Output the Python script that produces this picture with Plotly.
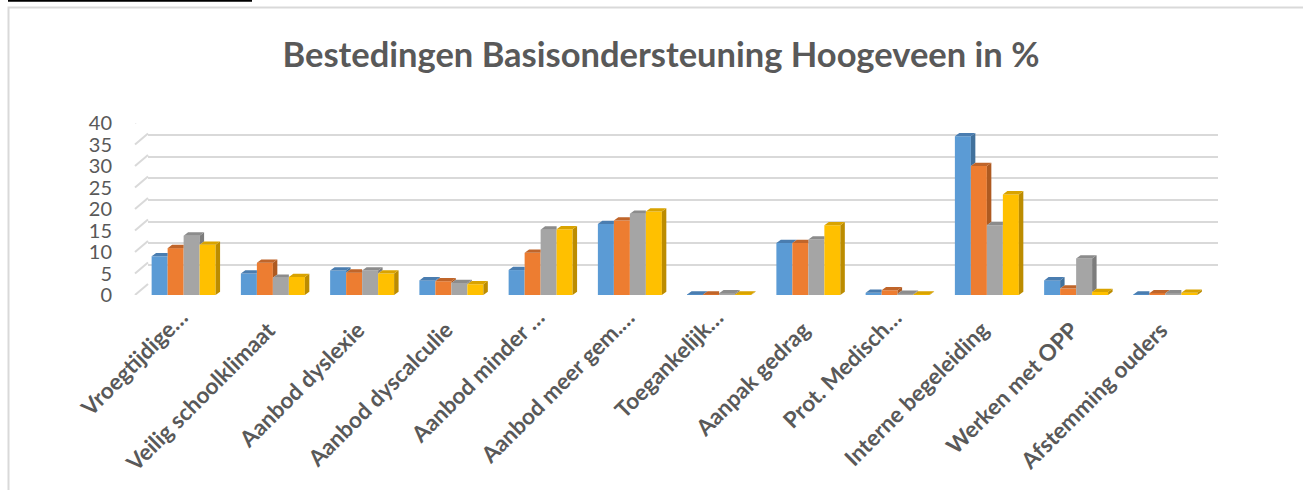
import plotly.graph_objects as go

W, H = 1303, 490

categories = ["Vroegtijdige…", "Veilig schoolklimaat", "Aanbod dyslexie", "Aanbod dyscalculie",
              "Aanbod minder …", "Aanbod meer gem.…", "Toegankelijk…", "Aanpak gedrag",
              "Prot. Medisch…", "Interne begeleiding", "Werken met OPP", "Afstemming ouders"]
series_names = ["Reeks 1", "Reeks 2", "Reeks 3", "Reeks 4"]
s1 = [9.0, 5.0, 5.7, 3.4, 5.8, 16.5, 0.1, 12.1, 0.5, 36.9, 3.4, 0.1]
s2 = [10.9, 7.5, 5.2, 3.2, 9.8, 17.3, 0.1, 12.1, 1.1, 30.0, 1.5, 0.4]
s3 = [13.8, 4.0, 5.7, 2.8, 15.2, 18.9, 0.4, 12.9, 0.3, 16.2, 8.5, 0.4]
s4 = [11.7, 4.2, 5.0, 2.5, 15.3, 19.4, 0.1, 16.2, 0.1, 23.4, 0.7, 0.5]
series = [s1, s2, s3, s4]
y_ticks = [0, 5, 10, 15, 20, 25, 30, 35, 40]

front_col = ["#5B9BD5", "#ED7D31", "#A5A5A5", "#FFC000"]
side_col = ["#41719C", "#AE5A21", "#7C7C7C", "#BC8C00"]
top_col = ["#4A7DB0", "#C0652A", "#8C8C8C", "#D9A300"]

GROUP = 0.717
BW = GROUP / 4
DX = 0.05   # depth offset in category units
DY = 0.77   # depth offset in value units

fig = go.Figure()

# back-wall gridlines subplot (x / y)
fig.add_trace(go.Scatter(x=[0], y=[0], mode="markers", marker=dict(opacity=0),
                         hoverinfo="skip", showlegend=False, xaxis="x", yaxis="y"))

xs = list(range(len(categories)))
for s, vals in enumerate(series):
    offset = -GROUP / 2 + s * BW
    fig.add_trace(go.Bar(x=xs, y=vals, width=BW, offset=offset, marker=dict(color=front_col[s], line=dict(width=0)),
                         name=series_names[s], showlegend=False, xaxis="x2", yaxis="y2"))
for s, vals in enumerate(series):
    offset = -GROUP / 2 + s * BW
    sx, sy, tx, ty = [], [], [], []
    for i, v in enumerate(vals):
        xl = i + offset
        xr = xl + BW
        nxt = series[s + 1][i] if s < 3 else 0.0
        low = min(nxt, v) if s < 3 else 0.0
        if s == 3 or nxt < v:
            sx += [xr, xr, xr + DX, xr + DX, xr, None]
            sy += [low, v, v + DY, low + DY, low, None]
        if s < 3 and nxt > v:
            tx += [xl, xr, xr, xl + DX, xl, None]
            ty += [v, v, v + DY, v + DY, v, None]
        else:
            tx += [xl, xr, xr + DX, xl + DX, xl, None]
            ty += [v, v, v + DY, v + DY, v, None]
    fig.add_trace(go.Scatter(x=sx, y=sy, mode="lines", fill="toself", fillcolor=side_col[s],
                             line=dict(width=0), hoverinfo="skip", showlegend=False, xaxis="x2", yaxis="y2"))
    fig.add_trace(go.Scatter(x=tx, y=ty, mode="lines", fill="toself", fillcolor=top_col[s],
                             line=dict(width=0), hoverinfo="skip", showlegend=False, xaxis="x2", yaxis="y2"))

grey = "#595959"
fig.update_layout(
    width=W, height=H,
    margin=dict(l=0, r=0, t=0, b=0, pad=0, autoexpand=False),
    paper_bgcolor="white",
    plot_bgcolor="rgba(0,0,0,0)",
    showlegend=False,
    barmode="overlay",
    xaxis=dict(domain=[148 / W, 1218 / W], range=[0, 1], visible=False, anchor="y", automargin=False),
    yaxis=dict(domain=[(H - 287) / H, (H - 113) / H], range=[-0.1, 40.1], anchor="x", automargin=False,
               showgrid=True, gridcolor="#D9D9D9", gridwidth=2, tickvals=y_ticks,
               showticklabels=False, zeroline=False, showline=False, ticks=""),
    xaxis2=dict(domain=[139 / W, 1210 / W], range=[-0.5, 11.5], anchor="y2", automargin=False,
                tickvals=xs, showticklabels=False,
                showgrid=False, zeroline=False, showline=False, ticks=""),
    yaxis2=dict(domain=[(H - 295) / H, (H - 123) / H], range=[0, 40], anchor="x2", automargin=False,
                tickvals=y_ticks, tickfont=dict(family="Lato", size=20, color=grey),
                showgrid=False, zeroline=False, showline=False, ticks="", ticklabelstandoff=26),
    title=dict(text="<b>Bestedingen Basisondersteuning Hoogeveen in %</b>",
               x=661 / W, xanchor="center", y=1 - 55 / H, yanchor="middle", automargin=False,
               font=dict(family="Lato", size=34.5, color=grey)),
)

# rotated category labels, ending at the category position (Excel style)
for i, lab in enumerate(categories):
    truncated = lab.endswith("…")
    fig.add_annotation(x=xs[i], y=0, xref="x2", yref="y2", text="<b>" + lab + "</b>", showarrow=False,
                       textangle=-45, xanchor="right", yanchor="top",
                       xshift=12 if truncated else 10, yshift=-6 if truncated else -18,
                       font=dict(family="Lato", size=22.5, color=grey))

shapes = []
for t in y_ticks:
    shapes.append(dict(type="line", xref="paper", xsizemode="pixel", xanchor=135 / W, x0=0, x1=13,
                       yref="y2", ysizemode="pixel", yanchor=t, y0=0, y1=11,
                       line=dict(color="#D9D9D9", width=2), layer="below"))
shapes.append(dict(type="rect", xref="paper", yref="paper", x0=8.5 / W, x1=1.01, y0=-0.01, y1=1 - 7.5 / H,
                   line=dict(color="#D9D9D9", width=2), layer="below"))
shapes.append(dict(type="line", xref="paper", yref="paper", x0=8 / W, x1=252 / W, y0=1 - 0.8 / H, y1=1 - 0.8 / H,
                   line=dict(color="black", width=2)))
fig.update_layout(shapes=shapes)

fig.write_html("out.html", config={"displayModeBar": False},
               post_script="document.body.style.margin='0';document.body.style.padding='0';")
